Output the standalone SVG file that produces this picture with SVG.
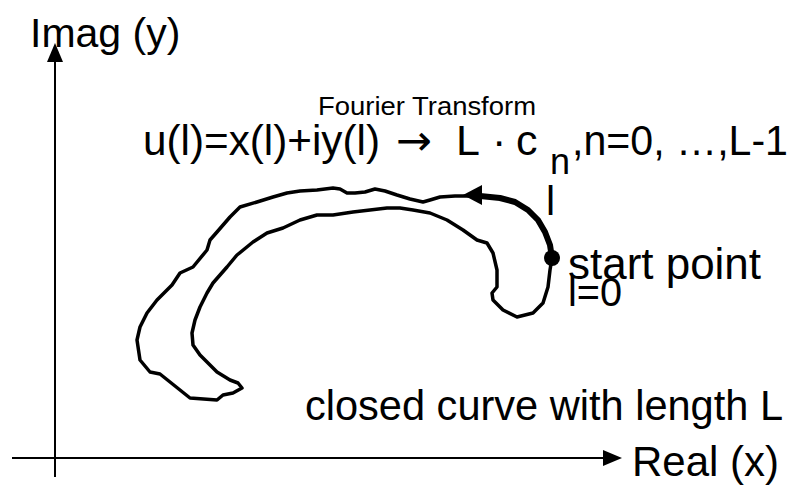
<svg xmlns="http://www.w3.org/2000/svg" width="792" height="487" viewBox="0 0 792 487">
<style>
text{font-family:"Liberation Sans",Arial,sans-serif;fill:#000}
.axis{stroke:#000;stroke-width:2;fill:none}
.curve{stroke:#000;stroke-width:3.5;fill:none;stroke-linejoin:round;stroke-linecap:round}
.f{font-size:43px}
</style>
<rect width="792" height="487" fill="#fff"/>
<g id="axes">
<line class="axis" x1="55" y1="58" x2="55" y2="477"/>
<polygon points="55,43 47,62 63,62" fill="#000"/>
<line class="axis" x1="12" y1="458" x2="606" y2="458"/>
<polygon points="622,458 603,450 603,466" fill="#000"/>
</g>
<g id="labels">
<text x="30" y="47" style="font-size:41px">Imag (y)</text>
<text x="632" y="476" style="font-size:42px">Real (x)</text>
<text x="305" y="420" style="font-size:42px" textLength="478" lengthAdjust="spacingAndGlyphs">closed curve with length L</text>
<text x="568" y="279" style="font-size:44px" textLength="193" lengthAdjust="spacingAndGlyphs">start point</text>
<text x="568" y="306" style="font-size:40px" textLength="54" lengthAdjust="spacingAndGlyphs">l=0</text>
<text x="318" y="115" style="font-size:25px" textLength="218" lengthAdjust="spacingAndGlyphs">Fourier Transform</text>
<text x="143" y="155" class="f" textLength="237" lengthAdjust="spacingAndGlyphs">u(l)=x(l)+iy(l)</text>
<text x="396" y="155" style="font-family:'DejaVu Sans',sans-serif;font-size:42px" textLength="36" lengthAdjust="spacingAndGlyphs">→</text>
<text x="456" y="155" class="f">L</text>
<text x="492" y="155" class="f">·</text>
<text x="516" y="155" class="f">c</text>
<text x="550" y="174" style="font-size:36px">n</text>
<text x="572" y="155" class="f" textLength="216" lengthAdjust="spacingAndGlyphs">,n=0, …,L-1</text>
<text x="546" y="215" style="font-size:41px">l</text>
</g>
<g id="curve">
<path class="curve" d="M552,258 L550,245 545,232 538,220 528,210 515,202 500,198 485,196 470,196 455,196 440,197 430,200 423,202 410,199 397,195 385,191 375,189 365,192 355,193 347,193 340,189 333,188 317,190 300,191 287,193 273,197 257,202 240,207 230,217 217,232 210,240 207,250 193,267 180,273 172,285 157,300 147,313 140,327 137,340 140,360 150,372 160,374 170,382 190,398 217,400 223,395 233,393 242,388 238,383 230,380 217,372 200,355 193,345 192,333 195,320 200,307 207,293 213,283 227,267 237,255 253,242 267,233 283,228 300,220 317,215 333,215 353,212 370,210 387,208 400,208 413,210 430,213 447,220 463,230 477,240 487,243 493,253 497,270 497,287 492,293 493,300 503,310 517,317 533,313 543,303 548,287 550,270 Z"/>
<path stroke="#000" stroke-width="6" fill="none" stroke-linecap="round" stroke-linejoin="round" d="M552,258 L550,245 545,232 538,220 528,210 515,202 500,198 480,196"/>
<polygon points="463,195 482,185 482,205" fill="#000"/>
<circle cx="552" cy="258" r="8" fill="#000"/>
</g>
</svg>
